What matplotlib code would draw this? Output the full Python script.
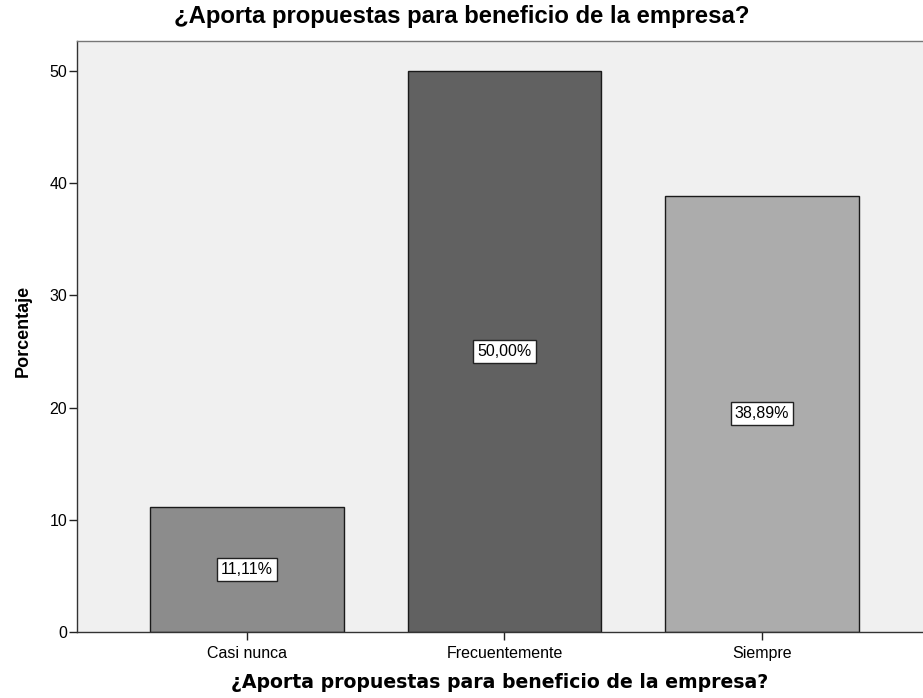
import matplotlib
matplotlib.use("Agg")
import matplotlib.pyplot as plt

categories = ["Casi nunca", "Frecuentemente", "Siempre"]
values = [11.11, 50.00, 38.89]
labels = ["11,11%", "50,00%", "38,89%"]
colors = ["#8c8c8c", "#616161", "#acacac"]
yticks = [0, 10, 20, 30, 40, 50]

fig = plt.figure(figsize=(9.23, 6.98), dpi=100)
ax = fig.add_axes([0.0834, 0.0946, 0.9166, 0.8467])
ax.set_facecolor("#f0f0f0")
x = list(range(len(categories)))
ax.bar(x, values, width=0.75, color=colors, edgecolor="#1a1a1a", linewidth=1.0, zorder=2)
for xi, v, lab in zip(x, values, labels):
    ax.text(xi, v / 2, lab, ha="center", va="center", fontsize=11.5, fontfamily="Liberation Sans",
            bbox=dict(boxstyle="square,pad=0.25", facecolor="white", edgecolor="#222222", linewidth=1.0),
            zorder=3)
ax.set_xlim(-0.66, 2.625)
ax.set_ylim(0, 52.67)
ax.set_xticks(x)
ax.set_xticklabels(categories, fontsize=11.5, fontfamily="Liberation Sans")
ax.set_yticks(yticks)
ax.set_yticklabels([str(t) for t in yticks], fontsize=11.5, fontfamily="Liberation Sans")
ax.tick_params(axis="both", length=6, width=1, color="#222222")
ax.tick_params(axis="x", pad=4)
ax.tick_params(axis="y", pad=1)
for s in ["left", "bottom", "top"]:
    ax.spines[s].set_color("#333333")
    ax.spines[s].set_linewidth(1.0)
ax.spines["top"].set_color("#777777")
ax.spines["right"].set_visible(False)
ax.set_ylabel("Porcentaje", fontsize=13, fontweight="bold", fontfamily="Liberation Sans", va="center")
ax.yaxis.set_label_coords(-0.064, 0.51)
ax.set_xlabel("¿Aporta propuestas para beneficio de la empresa?", fontsize=13.6, fontweight="bold", va="top")
ax.xaxis.set_label_coords(0.5, -0.07)
fig.suptitle("¿Aporta propuestas para beneficio de la empresa?", fontsize=17.2, fontweight="bold",
             fontfamily="Liberation Sans", x=0.5, y=0.976, va="center")
fig.savefig("out.png", dpi=100)
